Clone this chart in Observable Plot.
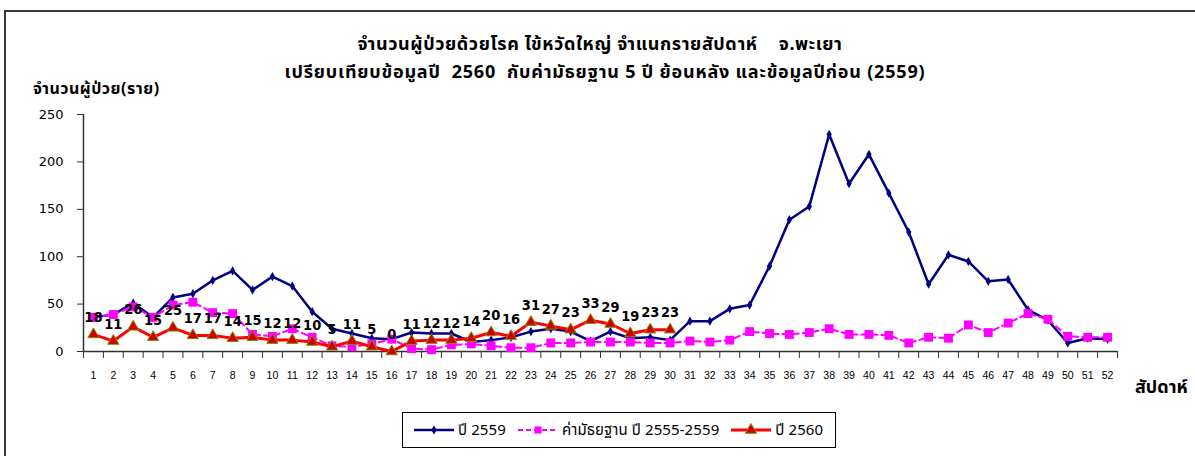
<!DOCTYPE html>
<html><head><meta charset="utf-8">
<script src="https://cdn.jsdelivr.net/npm/d3@7"></script>
<script src="https://cdn.jsdelivr.net/npm/@observablehq/plot@0.6"></script>
<style>
body{margin:0;background:#fff;}
#wrap{position:relative;width:1195px;height:456px;overflow:hidden;background:#fff;font-family:Tahoma,"Noto Sans Thai","Noto Sans","DejaVu Sans",sans-serif;color:#000;}
#frame{position:absolute;left:4px;top:10px;width:1300px;height:600px;border:2px solid #3a3a3a;box-sizing:border-box;}
#chart{position:absolute;left:0;top:0;}
.t{position:absolute;white-space:nowrap;}
#title1{left:0;width:1200px;text-align:center;top:31px;font-size:18px;letter-spacing:0.6px;font-weight:bold;}
#title2{left:0;width:1210px;text-align:center;top:59px;font-size:18px;letter-spacing:0.8px;font-weight:bold;}
#ylab{left:33px;top:77px;font-size:16px;letter-spacing:0.5px;font-weight:bold;}
#xlab{left:1135px;top:374px;font-size:18px;font-weight:bold;}
#legend{position:absolute;left:402px;top:412px;width:434px;height:36px;border:1px solid #000;box-sizing:border-box;display:flex;align-items:center;font-size:15px;letter-spacing:0.1px;white-space:nowrap;overflow:visible;}
#legend .item{display:flex;align-items:center;margin-left:10px;flex-shrink:0;white-space:nowrap;}
#legend .item + .item{margin-left:11px;}
#legend svg{margin-right:3px;flex-shrink:0;}
</style>
</head><body>
<div id="wrap">
  <div id="frame"></div>
  <div id="chart"></div>
  <div class="t" id="title1">จำนวนผู้ป่วยด้วยโรค ไข้หวัดใหญ่ จำแนกรายสัปดาห์&nbsp;&nbsp;&nbsp; จ.พะเยา</div>
  <div class="t" id="title2">เปรียบเทียบข้อมูลปี&nbsp; 2560&nbsp; กับค่ามัธยฐาน 5 ปี ย้อนหลัง และข้อมูลปีก่อน (2559)</div>
  <div class="t" id="ylab">จำนวนผู้ป่วย(ราย)</div>
  <div class="t" id="xlab">สัปดาห์</div>
  <div id="legend"></div>
</div>
<script>
const weeks = [1,2,3,4,5,6,7,8,9,10,11,12,13,14,15,16,17,18,19,20,21,22,23,24,25,26,
  27,28,29,30,31,32,33,34,35,36,37,38,39,40,41,42,43,44,45,46,47,48,49,50,51,52];
const values2559 = [36,39,51,36,57,61,75,85,65,79,69,42,24,19,14,13,20,19,19,10,12,15,21,24,21,11,
  21,14,15,12,32,32,45,49,90,139,153,229,177,208,167,126,71,102,95,74,76,44,33,9,14,13];
const valuesMedian = [36,39,47,36,49,52,41,40,18,16,24,15,6,5,8,13,3,2,7,8,6,4,4,9,9,10,
  10,10,9,9,11,10,12,21,19,18,20,24,18,18,17,9,15,14,28,20,30,40,34,16,15,15];
const values2560 = [18,11,26,15,25,17,17,14,15,12,12,10,5,11,5,0,11,12,12,14,20,16,31,27,23,33,29,19,23,23];
const yTicks = [0,50,100,150,200,250];

const seriesNames = ["ปี 2559","ค่ามัธยฐาน ปี 2555-2559","ปี 2560"];
const colors = {navy:"#000080", magenta:"#FF00FF", red:"#FF0000"};

const s2559 = weeks.map((w,i)=>({week:w, value:values2559[i]}));
const sMed = weeks.map((w,i)=>({week:w, value:valuesMedian[i]}));
const s2560 = values2560.map((v,i)=>({week:weeks[i], value:v}));
const bounds = [weeks[0]-0.5, ...weeks.map(w=>w+0.5)];

const chart = Plot.plot({
  width:1195, height:400,
  marginLeft:83, marginRight:78, marginTop:114, marginBottom:49,
  style:{background:"transparent", color:"#000", fontFamily:"'DejaVu Sans',sans-serif"},
  x:{domain:[bounds[0], bounds[bounds.length-1]]},
  y:{domain:[yTicks[0], yTicks[yTicks.length-1]]},
  marks:[
    Plot.axisY({ticks:yTicks, tickSize:6, tickPadding:14, fontSize:13, label:null, stroke:"#333"}),
    Plot.axisX({ticks:bounds, tickSize:7, tickFormat:()=>"", label:null, stroke:"#333"}),
    Plot.axisX({ticks:weeks, tickSize:0, tickPadding:20, fontSize:10.5, label:null, fontFamily:"'Liberation Sans',Arial,sans-serif"}),
    Plot.ruleY([yTicks[0]], {stroke:"#333", strokeWidth:1.5}),
    Plot.ruleX([bounds[0]], {stroke:"#333", strokeWidth:1.5}),
    Plot.line(s2559, {x:"week", y:"value", stroke:colors.navy, strokeWidth:2.5}),
    Plot.dot(s2559, {x:"week", y:"value", symbol:"diamond", r:2.8, fill:colors.navy}),
    Plot.line(sMed, {x:"week", y:"value", stroke:colors.magenta, strokeWidth:2, strokeDasharray:"6,4"}),
    Plot.dot(sMed, {x:"week", y:"value", symbol:"square", r:5, fill:colors.magenta}),
    Plot.line(s2560, {x:"week", y:"value", stroke:colors.red, strokeWidth:3}),
    Plot.dot(s2560, {x:"week", y:"value", symbol:"triangle", r:4.2, fill:"#CC0000", stroke:"#8B8B00", strokeWidth:1}),
    Plot.text(s2560, {x:"week", y:"value", text:d=>String(d.value), dy:-17, fontWeight:"bold", fontSize:14.5,
      fontFamily:"'Liberation Sans Narrow','DejaVu Sans Condensed',sans-serif", fill:"#000"})
  ]
});
document.getElementById("chart").appendChild(chart);

// legend
const legend = document.getElementById("legend");
const swatches = [
  {stroke:colors.navy, dash:null, width:2.5, sym:"diamond", fill:colors.navy, r:2.8, sw:null},
  {stroke:colors.magenta, dash:"5,3", width:2, sym:"square", fill:colors.magenta, r:4, sw:null},
  {stroke:colors.red, dash:null, width:3, sym:"triangle", fill:"#CC0000", r:4.2, sw:"#8B8B00"}
];
const symMap = {diamond:d3.symbolDiamond, square:d3.symbolSquare, triangle:d3.symbolTriangle};
seriesNames.forEach((name,i)=>{
  const s = swatches[i];
  const item = document.createElement("div");
  item.className = "item";
  const svg = d3.create("svg").attr("width",42).attr("height",16);
  svg.append("line").attr("x1",1).attr("x2",41).attr("y1",8).attr("y2",8)
    .attr("stroke",s.stroke).attr("stroke-width",s.width).attr("stroke-dasharray",s.dash);
  svg.append("path").attr("transform","translate(21,8)")
    .attr("d", d3.symbol(symMap[s.sym], Math.PI*s.r*s.r)())
    .attr("fill",s.fill).attr("stroke",s.sw);
  item.appendChild(svg.node());
  const span = document.createElement("span");
  span.textContent = name;
  item.appendChild(span);
  legend.appendChild(item);
});
</script>
</body></html>
